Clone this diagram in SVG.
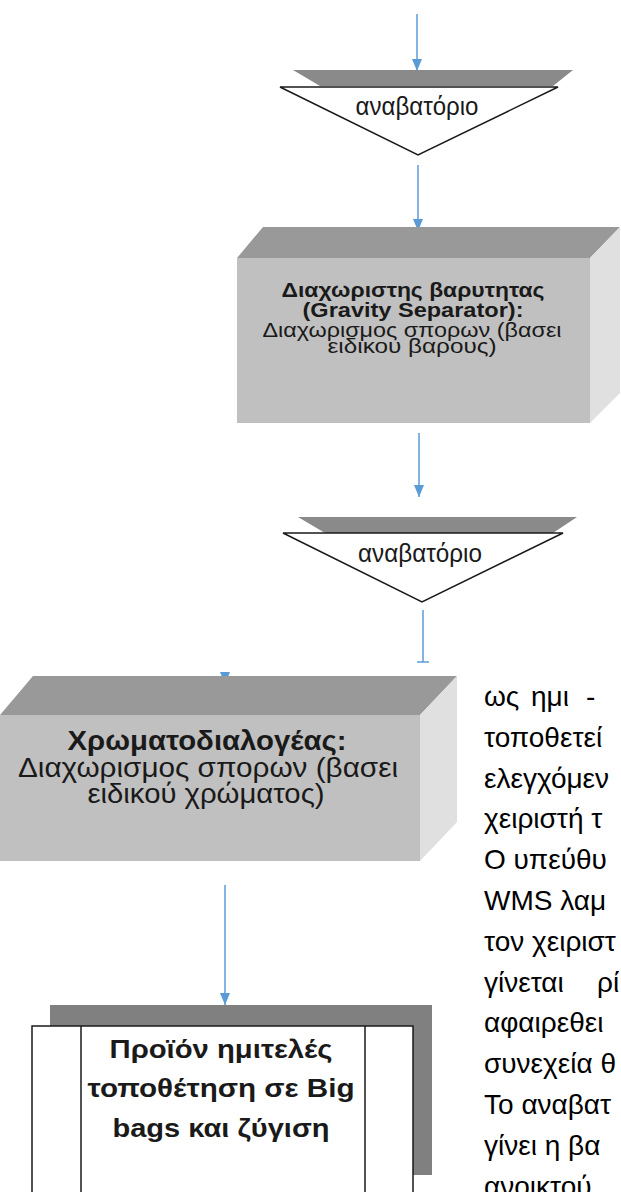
<svg xmlns="http://www.w3.org/2000/svg" width="621" height="1192" viewBox="0 0 621 1192">
<style>
.conn{stroke:#5b9bd5;stroke-width:1.5;fill:none}
.tri-top{fill:#8a8a8a}
.tri{fill:#ffffff;stroke:#1a1a1a;stroke-width:1.5}
.face-top{fill:#999999}
.face-front{fill:#c0c0c0}
.face-side{fill:#e0e0e0}
.lbl{font-family:"Liberation Sans",Arial,sans-serif;fill:#1a1a1a;text-anchor:middle}
.b{font-weight:bold}
.para{font-family:"Liberation Sans",Arial,sans-serif;font-size:28px;fill:#000}
</style>
<defs>
<marker id="ah" viewBox="0 0 12 10" refX="12" refY="5" markerWidth="12" markerHeight="10" markerUnits="userSpaceOnUse" orient="auto">
<path d="M0,0 L12,5 L0,10 Z" fill="#5b9bd5"/>
</marker>
</defs>

<g id="connectors">
<line class="conn" x1="417" y1="14" x2="417" y2="71" marker-end="url(#ah)"/>
<line class="conn" x1="418" y1="165" x2="418" y2="231" marker-end="url(#ah)"/>
<line class="conn" x1="419" y1="433" x2="419" y2="497" marker-end="url(#ah)"/>
<line class="conn" x1="423" y1="610" x2="423" y2="662"/>
<line class="conn" x1="417" y1="662" x2="429" y2="662" stroke-width="3"/>
<line class="conn" x1="225" y1="672" x2="225" y2="684" marker-end="url(#ah)"/>
<line class="conn" x1="225" y1="885" x2="225" y2="1005" marker-end="url(#ah)"/>
</g>

<g id="elevator1">
<polygon class="tri-top" points="293,70 573,70 553,86 320,86"/>
<polygon class="tri" points="280,87 558,87 418,155"/>
<text class="lbl" x="417" y="115" font-size="25" textLength="123" lengthAdjust="spacingAndGlyphs">αναβατόριο</text>
</g>

<g id="gravity-separator">
<polygon class="face-top" points="263,227 620,227 590,258 237,258"/>
<rect class="face-front" x="237" y="258" width="353" height="165"/>
<polygon class="face-side" points="590,258 620,227 620,393 590,423"/>
<text class="lbl b" x="413" y="297" font-size="20" textLength="263" lengthAdjust="spacingAndGlyphs">Διαχωριστης βαρυτητας</text>
<text class="lbl b" x="413" y="317" font-size="20" textLength="221" lengthAdjust="spacingAndGlyphs">(Gravity Separator):</text>
<text class="lbl" x="412" y="337" font-size="21" textLength="299" lengthAdjust="spacingAndGlyphs">Διαχωρισμος σπορων (βασει</text>
<text class="lbl" x="412" y="353" font-size="21" textLength="169" lengthAdjust="spacingAndGlyphs">ειδικου βαρους)</text>
</g>

<g id="elevator2">
<polygon class="tri-top" points="298,517 577,517 553,533 325,533"/>
<polygon class="tri" points="283,533 563,533 422,602"/>
<text class="lbl" x="420" y="562" font-size="25" textLength="124" lengthAdjust="spacingAndGlyphs">αναβατόριο</text>
</g>

<g id="color-sorter">
<polygon class="face-top" points="33,676 457,676 420,715 0,715"/>
<rect class="face-front" x="0" y="715" width="420" height="146"/>
<polygon class="face-side" points="420,715 457,676 457,822 420,861"/>
<text class="lbl b" x="207" y="750" font-size="28" textLength="279" lengthAdjust="spacingAndGlyphs">Χρωματοδιαλογέας:</text>
<text class="lbl" x="208" y="777" font-size="28" textLength="380" lengthAdjust="spacingAndGlyphs">Διαχωρισμος σπορων (βασει</text>
<text class="lbl" x="206" y="803" font-size="28" textLength="237" lengthAdjust="spacingAndGlyphs">ειδικού χρώματος)</text>
</g>

<g id="product-bags">
<rect x="50" y="1005" width="382" height="170" fill="#808080"/>
<rect x="32" y="1026" width="381" height="180" fill="#ffffff" stroke="#1a1a1a" stroke-width="1.5"/>
<line x1="81" y1="1026" x2="81" y2="1200" stroke="#1a1a1a" stroke-width="1.5"/>
<line x1="365" y1="1026" x2="365" y2="1200" stroke="#1a1a1a" stroke-width="1.5"/>
<text class="lbl b" x="221" y="1058" font-size="25" textLength="223" lengthAdjust="spacingAndGlyphs">Προϊόν ημιτελές</text>
<text class="lbl b" x="221" y="1097" font-size="25" textLength="267" lengthAdjust="spacingAndGlyphs">τοποθέτηση σε Big</text>
<text class="lbl b" x="221" y="1137" font-size="25" textLength="217" lengthAdjust="spacingAndGlyphs">bags και ζύγιση</text>
</g>

<g id="paragraph">
<text class="para" y="706"><tspan x="484">ως</tspan><tspan x="531">ημι</tspan><tspan x="586">-</tspan></text>
<text class="para" x="484" y="747">τοποθετεί</text>
<text class="para" x="484" y="788">ελεγχόμεν</text>
<text class="para" x="484" y="828">χειριστή τ</text>
<text class="para" x="484" y="869">Ο υπεύθυ</text>
<text class="para" x="484" y="910">WMS λαμ</text>
<text class="para" x="484" y="951">τον χειριστ</text>
<text class="para" y="992"><tspan x="484">γίνεται</tspan><tspan x="597">ρί</tspan></text>
<text class="para" x="484" y="1032">αφαιρεθει</text>
<text class="para" x="484" y="1073">συνεχεία θ</text>
<text class="para" x="484" y="1114">Το αναβατ</text>
<text class="para" x="484" y="1155">γίνει η βα</text>
<text class="para" x="484" y="1196">ανοικτού</text>
</g>
</svg>
